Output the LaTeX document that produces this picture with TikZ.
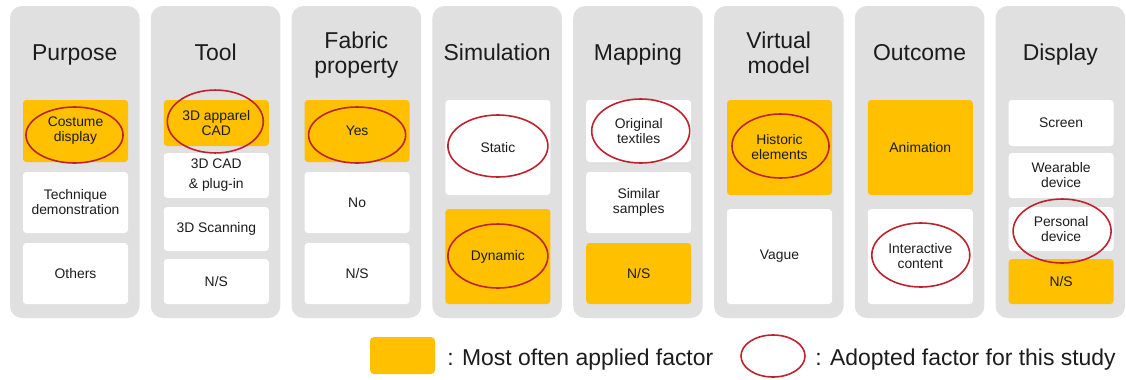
\documentclass[tikz,border=0pt]{standalone}
\usepackage{fontspec}
\setmainfont{Liberation Sans}
\definecolor{panelgray}{RGB}{224,224,224}
\definecolor{gold}{RGB}{255,192,0}
\definecolor{pickred}{RGB}{190,35,45}
\definecolor{ink}{RGB}{28,28,28}
\tikzset{
  panel/.style={fill=panelgray, rounded corners=9pt},
  heading/.style={text=ink, inner sep=0pt, align=center,
    font=\fontsize{17.2pt}{18.75pt}\selectfont},
  factorbox/.style={fill=white, rounded corners=2.5pt, inner sep=0pt, text=ink,
    align=center, minimum width=78.75pt,
    font=\fontsize{10.4pt}{11.25pt}\selectfont},
  hotbox/.style={factorbox, fill=gold},
  pick/.style={draw=pickred, line width=1.2pt},
  keytext/.style={text=ink, inner sep=0pt, anchor=base west,
    font=\fontsize{17.2pt}{18.75pt}\selectfont},
}
% one factor box: style, name, left edge, top, bottom, text (pixel units)
\newcommand\putfactor[6]{%
  \node[#1, minimum height={((#5)-(#4))*0.75pt}] (#2)
    at ({(#3)+52.5},{((#4)+(#5))/2}) {#6};}
\begin{document}
\begin{tikzpicture}[x=0.75pt,y=-0.75pt]
\fill[white] (0,0) rectangle (1126,379);
\useasboundingbox (0,0) rectangle (1126,379);

% grey columns
\foreach \i in {0,...,7}
  \fill[panel] ({10+140.8*\i},6) rectangle ++(129.5,312);

% column headings
\node[heading, anchor=base]  (hpurpose) at (74.75,60)    {Purpose};
\node[heading, anchor=base]  (htool)    at (215.55,60)   {Tool};
\node[heading, anchor=north] (hfabric)  at (356.35,31.3) {Fabric\\property};
\node[heading, anchor=base]  (hsim)     at (497.15,60)   {Simulation};
\node[heading, anchor=base]  (hmap)     at (637.95,60)   {Mapping};
\node[heading, anchor=north] (hvirtual) at (778.75,31.3) {Virtual\\model};
\node[heading, anchor=base]  (hout)     at (919.55,60)   {Outcome};
\node[heading, anchor=base]  (hdisp)    at (1060.35,60)  {Display};

% Purpose
\putfactor{hotbox}{pur1}{23}{100}{162}{Costume\\display}
\putfactor{factorbox}{pur2}{23}{172}{233}{Technique\\demonstration}
\putfactor{factorbox}{pur3}{23}{243}{304}{Others}

% Tool
\putfactor{hotbox}{tool1}{163.8}{100}{146}{3D apparel\\CAD}
\putfactor{factorbox}{tool2}{163.8}{153}{198}{3D CAD\\[3.75pt]\& plug-in}
\putfactor{factorbox}{tool3}{163.8}{207}{251}{3D Scanning}
\putfactor{factorbox}{tool4}{163.8}{259}{304}{N/S}

% Fabric property
\putfactor{hotbox}{fab1}{304.6}{100}{162}{Yes}
\putfactor{factorbox}{fab2}{304.6}{172}{233}{No}
\putfactor{factorbox}{fab3}{304.6}{243}{304}{N/S}

% Simulation
\putfactor{factorbox}{sim1}{445.4}{100}{195}{Static}
\putfactor{hotbox}{sim2}{445.4}{209}{304}{Dynamic}

% Mapping
\putfactor{factorbox}{map1}{586.2}{100}{162}{Original\\textiles}
\putfactor{factorbox}{map2}{586.2}{172}{233}{Similar\\samples}
\putfactor{hotbox}{map3}{586.2}{243}{304}{N/S}

% Virtual model
\putfactor{hotbox}{vir1}{727}{100}{195}{Historic\\elements}
\putfactor{factorbox}{vir2}{727}{209}{304}{Vague}

% Outcome
\putfactor{hotbox}{out1}{867.8}{100}{195}{Animation}
\putfactor{factorbox}{out2}{867.8}{209}{304}{Interactive\\content}

% Display
\putfactor{factorbox}{dis1}{1008.6}{100}{146}{Screen}
\putfactor{factorbox}{dis2}{1008.6}{153}{198}{Wearable\\device}
\putfactor{factorbox}{dis3}{1008.6}{207}{251}{Personal\\device}
\putfactor{hotbox}{dis4}{1008.6}{259}{304}{N/S}

% adopted factors
\draw[pick] ([shift={(-1,4)}]pur1.center)     ellipse [x radius=36.4pt, y radius=21pt];
\draw[pick] ([shift={(-1,-1.5)}]tool1.center) ellipse [x radius=36pt, y radius=23.6pt];
\draw[pick] ([shift={(0,4)}]fab1.center)      ellipse [x radius=36.4pt, y radius=21pt];
\draw[pick] ([shift={(0,-1.5)}]sim1.center)   ellipse [x radius=37.5pt, y radius=23.25pt];
\draw[pick] ([shift={(0,-0.5)}]sim2.center)   ellipse [x radius=37.5pt, y radius=24pt];
\draw[pick] ([shift={(2,0)}]map1.center)      ellipse [x radius=36.75pt, y radius=24pt];
\draw[pick] ([shift={(1,-1.5)}]vir1.center)   ellipse [x radius=36.4pt, y radius=24pt];
\draw[pick] ([shift={(0.5,-1.5)}]out2.center) ellipse [x radius=36.75pt, y radius=24pt];
\draw[pick] ([shift={(1,2)}]dis3.center)      ellipse [x radius=36.75pt, y radius=24pt];

% key
\node[hotbox, rounded corners=3pt, minimum width=48.75pt, minimum height=27.75pt]
  (keyhot) at (402.5,355.5) {};
\node[keytext] (keyhottext) at (447,365) {: Most often applied factor};
\coordinate (keypick) at (773,356);
\draw[pick] (keypick) ellipse [x radius=24pt, y radius=15.75pt];
\node[keytext] (keypicktext) at (815,365) {: Adopted factor for this study};
\end{tikzpicture}
\end{document}
